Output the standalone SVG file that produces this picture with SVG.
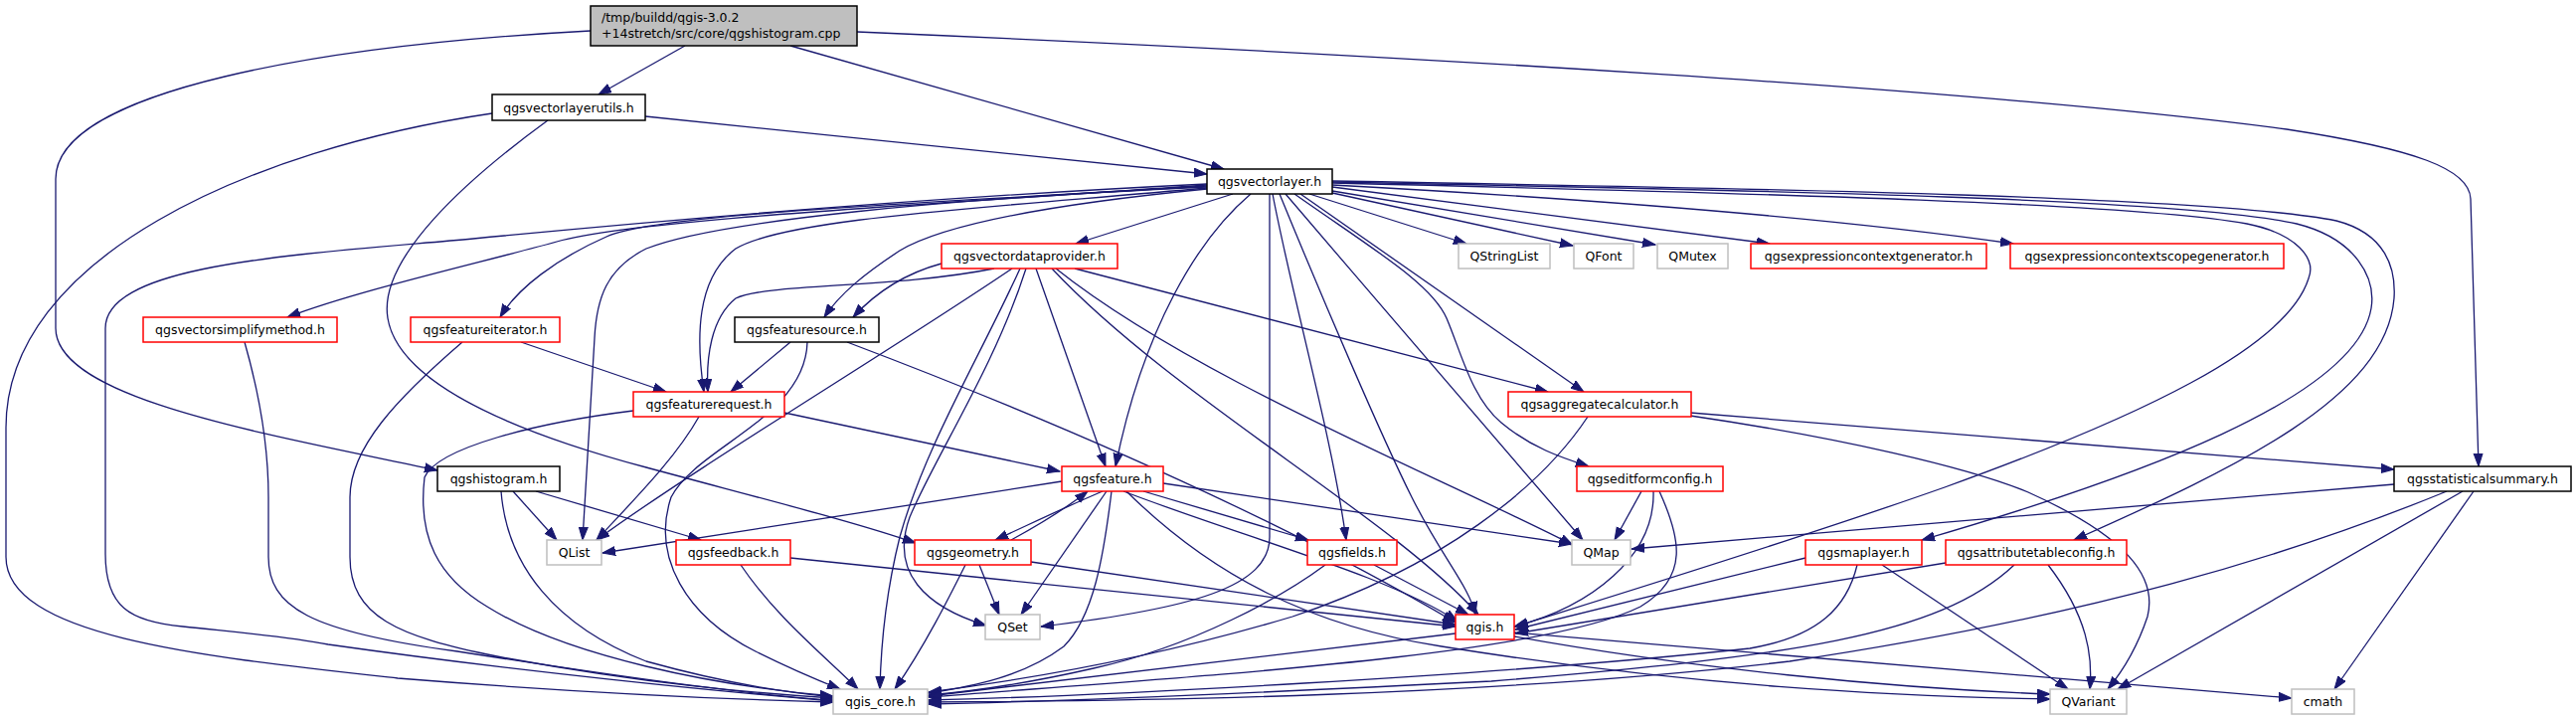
<svg xmlns="http://www.w3.org/2000/svg" width="2591" height="724" viewBox="0 0 2591 724">
<style>
.e{fill:none;stroke:#191970;stroke-width:1.3;marker-end:url(#a)}
.n rect{fill:#fff;stroke-width:1.5}
.r rect{stroke:#ff0000}
.g rect{stroke:#bfbfbf}
.k rect{stroke:#000}
text{font-family:"DejaVu Sans","Liberation Sans",sans-serif;font-size:12.5px;fill:#000;text-anchor:middle}
</style>
<defs>
<marker id="a" markerWidth="14" markerHeight="11" refX="13" refY="5" orient="auto" markerUnits="userSpaceOnUse"><path d="M0,0.5 L13,5 L0,9.5 z" fill="#191970" stroke="#191970" stroke-width="1"/></marker>
</defs>
<rect width="2591" height="724" fill="#fff"/>
<g id="edges">
<path class="e" d="M689,46 L602,95"/>
<path class="e" d="M795,46 L1231,170"/>
<path class="e" d="M594,31 C330,45 56,90 56,180 L56,330 C56,400 260,435 440,473"/>
<path class="e" d="M862,32 C1400,55 2000,90 2300,130 C2430,150 2484,170 2485,200 L2493,469"/>
<path class="e" d="M649,117 L1214,175"/>
<path class="e" d="M495,114 C250,150 6,260 6,430 L6,560 C6,640 200,660 400,682 C600,698 760,704 838,706"/>
<path class="e" d="M551,121 C470,180 380,260 390,320 C400,380 500,430 650,470 C780,505 860,525 921,546"/>
<path class="e" d="M1214,185 C900,200 600,228 476,240 C300,256 106,265 106,330 L106,557 C106,610 130,625 184,630 C240,636 290,640 330,648 C520,675 720,695 838,705"/>
<path class="e" d="M1214,186 C950,205 640,220 560,243 C480,265 360,292 289,319"/>
<path class="e" d="M1214,187 C920,205 660,215 610,238 C560,260 520,290 503,319"/>
<path class="e" d="M1214,189 C980,210 790,220 740,250 C700,280 700,340 708,394"/>
<path class="e" d="M1214,190 C1060,205 950,225 905,252 C870,275 845,295 829,319"/>
<path class="e" d="M1240,195 L1082,245"/>
<path class="e" d="M1214,188 C950,200 720,222 650,250 C610,270 600,300 598,340 L586,543"/>
<path class="e" d="M1258,195 C1205,240 1150,330 1122,469"/>
<path class="e" d="M1277,195 L1277,540 C1277,590 1200,612 1047,630"/>
<path class="e" d="M1280,195 C1300,300 1340,440 1354,543"/>
<path class="e" d="M1287,195 C1330,300 1390,440 1420,500 C1450,560 1478,590 1484,618"/>
<path class="e" d="M1293,195 C1400,320 1520,460 1592,543"/>
<path class="e" d="M1302,195 C1380,250 1440,285 1455,320 C1470,355 1480,400 1510,425 C1540,450 1570,460 1598,469"/>
<path class="e" d="M1308,195 L1593,394"/>
<path class="e" d="M1317,195 L1475,245"/>
<path class="e" d="M1340,194 L1582,247"/>
<path class="e" d="M1340,192 L1665,246"/>
<path class="e" d="M1340,188 L1780,245"/>
<path class="e" d="M1340,186 C1600,200 1850,220 2025,245"/>
<path class="e" d="M1340,184 C1800,195 2150,205 2260,225 C2310,235 2330,260 2322,280 C2300,350 2150,420 1956,490 C1800,545 1620,600 1524,630"/>
<path class="e" d="M1340,183 C1800,192 2200,200 2310,225 C2370,240 2390,280 2385,310 C2370,400 2150,480 1933,543"/>
<path class="e" d="M1340,182 C1800,190 2230,198 2350,222 C2400,235 2410,270 2408,300 C2400,400 2250,470 2086,543"/>
<path class="e" d="M947,265 C910,275 880,295 858,319"/>
<path class="e" d="M1000,270 C900,290 770,285 740,300 C715,320 710,360 712,394"/>
<path class="e" d="M1018,270 C900,350 700,470 600,543"/>
<path class="e" d="M1026,270 C985,360 930,450 905,540 C890,600 886,650 885,693"/>
<path class="e" d="M1032,270 C1000,370 940,460 915,520 C895,575 930,610 992,629"/>
<path class="e" d="M1042,270 L1112,469"/>
<path class="e" d="M1058,270 C1180,400 1400,520 1487,618"/>
<path class="e" d="M1062,270 C1200,380 1450,480 1582,548"/>
<path class="e" d="M1081,270 L1557,394"/>
<path class="e" d="M524,344 L670,394"/>
<path class="e" d="M465,344 C400,400 352,450 352,500 L352,560 C352,620 400,640 500,660 C650,688 760,697 838,702"/>
<path class="e" d="M246,344 C262,400 270,450 270,500 L270,560 C270,610 310,635 460,655 C620,680 760,700 838,704"/>
<path class="e" d="M795,344 L735,394"/>
<path class="e" d="M812,344 C810,420 700,450 675,500 C655,560 690,620 760,655 C800,675 825,685 845,693"/>
<path class="e" d="M852,344 C1000,400 1250,500 1464,626"/>
<path class="e" d="M703,419 C680,460 640,500 600,543"/>
<path class="e" d="M637,413 C540,425 440,450 427,480 C420,540 440,580 490,610 C570,660 720,690 838,700"/>
<path class="e" d="M789,415 L1066,474"/>
<path class="e" d="M1700,415 L2408,472"/>
<path class="e" d="M1700,418 C1850,440 1980,470 2040,495 C2140,540 2170,580 2160,620 C2150,650 2135,675 2120,693"/>
<path class="e" d="M1597,419 C1550,490 1450,570 1300,620 C1150,665 1020,685 934,696"/>
<path class="e" d="M516,494 L560,543"/>
<path class="e" d="M504,494 C510,570 560,630 650,665 C740,690 800,697 838,701"/>
<path class="e" d="M539,494 L705,543"/>
<path class="e" d="M1068,484 L606,556"/>
<path class="e" d="M1109,494 C1060,515 1030,530 1001,543"/>
<path class="e" d="M1017,543 C1050,525 1080,505 1094,494"/>
<path class="e" d="M1113,494 L1027,618"/>
<path class="e" d="M1118,494 C1110,560 1100,620 1070,650 C1030,680 980,690 934,697"/>
<path class="e" d="M1150,494 L1316,543"/>
<path class="e" d="M1130,494 C1250,540 1400,580 1466,625"/>
<path class="e" d="M1170,486 L1581,547"/>
<path class="e" d="M1133,494 C1220,580 1320,630 1450,650 C1700,690 1900,700 2062,703"/>
<path class="e" d="M985,568 L1005,618"/>
<path class="e" d="M971,568 C955,600 930,650 900,693"/>
<path class="e" d="M1037,565 L1464,628"/>
<path class="e" d="M1333,568 C1290,600 1200,650 1100,672 C1030,688 980,695 934,699"/>
<path class="e" d="M1382,568 L1477,618"/>
<path class="e" d="M1651,494 L1624,543"/>
<path class="e" d="M1663,494 C1665,560 1600,610 1523,630"/>
<path class="e" d="M1669,494 C1690,540 1700,580 1650,610 C1550,660 1200,680 934,701"/>
<path class="e" d="M2408,487 L1641,552"/>
<path class="e" d="M2461,494 C2300,560 2100,620 1800,665 C1500,700 1150,705 934,706"/>
<path class="e" d="M2477,494 L2130,693"/>
<path class="e" d="M2488,494 L2348,693"/>
<path class="e" d="M1816,561 L1524,633"/>
<path class="e" d="M1868,568 C1858,610 1830,640 1760,652 C1500,680 1100,700 934,704"/>
<path class="e" d="M1893,568 L2080,693"/>
<path class="e" d="M1957,566 L1524,637"/>
<path class="e" d="M2026,568 C1950,640 1800,660 1500,685 C1200,700 1050,706 934,708"/>
<path class="e" d="M2060,568 C2100,620 2105,660 2102,693"/>
<path class="e" d="M745,568 C780,620 830,660 863,693"/>
<path class="e" d="M795,561 L1464,630"/>
<path class="e" d="M1464,637 L934,700"/>
<path class="e" d="M1523,640 C1700,672 1900,692 2062,698"/>
<path class="e" d="M1523,636 L2305,702"/>
</g>
<g id="root" class="n"><rect x="594" y="6" width="268" height="40" style="fill:#bfbfbf;stroke:#000"/><text x="605" y="22" style="text-anchor:start">/tmp/buildd/qgis-3.0.2</text><text x="605" y="38" style="text-anchor:start">+14stretch/src/core/qgshistogram.cpp</text></g>
<g id="qgsvectorlayerutils" class="n k"><rect x="495" y="95" width="154" height="26"/><text x="572" y="112.5">qgsvectorlayerutils.h</text></g>
<g id="qgsvectorlayer" class="n k"><rect x="1214" y="170" width="126" height="25"/><text x="1277" y="187">qgsvectorlayer.h</text></g>
<g id="qgsvectordataprovider" class="n r"><rect x="947" y="245" width="177" height="25"/><text x="1035.5" y="262">qgsvectordataprovider.h</text></g>
<g id="QStringList" class="n g"><rect x="1467" y="245" width="92" height="25"/><text x="1513" y="262">QStringList</text></g>
<g id="QFont" class="n g"><rect x="1583" y="245" width="60" height="25"/><text x="1613" y="262">QFont</text></g>
<g id="QMutex" class="n g"><rect x="1667" y="245" width="71" height="25"/><text x="1702.5" y="262">QMutex</text></g>
<g id="qgsexpressioncontextgenerator" class="n r"><rect x="1761" y="245" width="237" height="25"/><text x="1879.5" y="262">qgsexpressioncontextgenerator.h</text></g>
<g id="qgsexpressioncontextscopegenerator" class="n r"><rect x="2022" y="245" width="275" height="25"/><text x="2159.5" y="262">qgsexpressioncontextscopegenerator.h</text></g>
<g id="qgsvectorsimplifymethod" class="n r"><rect x="144" y="319" width="195" height="25"/><text x="241.5" y="336">qgsvectorsimplifymethod.h</text></g>
<g id="qgsfeatureiterator" class="n r"><rect x="413" y="319" width="150" height="25"/><text x="488" y="336">qgsfeatureiterator.h</text></g>
<g id="qgsfeaturesource" class="n k"><rect x="739" y="319" width="145" height="25"/><text x="811.5" y="336">qgsfeaturesource.h</text></g>
<g id="qgsfeaturerequest" class="n r"><rect x="637" y="394" width="152" height="25"/><text x="713" y="411">qgsfeaturerequest.h</text></g>
<g id="qgsaggregatecalculator" class="n r"><rect x="1517" y="394" width="184" height="25"/><text x="1609" y="411">qgsaggregatecalculator.h</text></g>
<g id="qgshistogram" class="n k"><rect x="440" y="469" width="123" height="25"/><text x="501.5" y="486">qgshistogram.h</text></g>
<g id="qgsfeature" class="n r"><rect x="1068" y="469" width="102" height="25"/><text x="1119" y="486">qgsfeature.h</text></g>
<g id="qgseditformconfig" class="n r"><rect x="1586" y="469" width="147" height="25"/><text x="1659.5" y="486">qgseditformconfig.h</text></g>
<g id="qgsstatisticalsummary" class="n k"><rect x="2408" y="469" width="178" height="25"/><text x="2497" y="486">qgsstatisticalsummary.h</text></g>
<g id="QList" class="n g"><rect x="550" y="543" width="55" height="25"/><text x="577.5" y="560">QList</text></g>
<g id="qgsfeedback" class="n r"><rect x="680" y="543" width="115" height="25"/><text x="737.5" y="560">qgsfeedback.h</text></g>
<g id="qgsgeometry" class="n r"><rect x="920" y="543" width="117" height="25"/><text x="978.5" y="560">qgsgeometry.h</text></g>
<g id="qgsfields" class="n r"><rect x="1315" y="543" width="90" height="25"/><text x="1360" y="560">qgsfields.h</text></g>
<g id="QMap" class="n g"><rect x="1581" y="543" width="59" height="25"/><text x="1610.5" y="560">QMap</text></g>
<g id="qgsmaplayer" class="n r"><rect x="1816" y="543" width="117" height="25"/><text x="1874.5" y="560">qgsmaplayer.h</text></g>
<g id="qgsattributetableconfig" class="n r"><rect x="1957" y="543" width="182" height="25"/><text x="2048" y="560">qgsattributetableconfig.h</text></g>
<g id="QSet" class="n g"><rect x="991" y="618" width="55" height="25"/><text x="1018.5" y="635">QSet</text></g>
<g id="qgis" class="n r"><rect x="1464" y="618" width="59" height="25"/><text x="1493.5" y="635">qgis.h</text></g>
<g id="qgis_core" class="n g"><rect x="838" y="693" width="95" height="25"/><text x="885.5" y="710">qgis_core.h</text></g>
<g id="QVariant" class="n g"><rect x="2062" y="693" width="77" height="25"/><text x="2100.5" y="710">QVariant</text></g>
<g id="cmath" class="n g"><rect x="2305" y="693" width="63" height="25"/><text x="2336.5" y="710">cmath</text></g>
</svg>
